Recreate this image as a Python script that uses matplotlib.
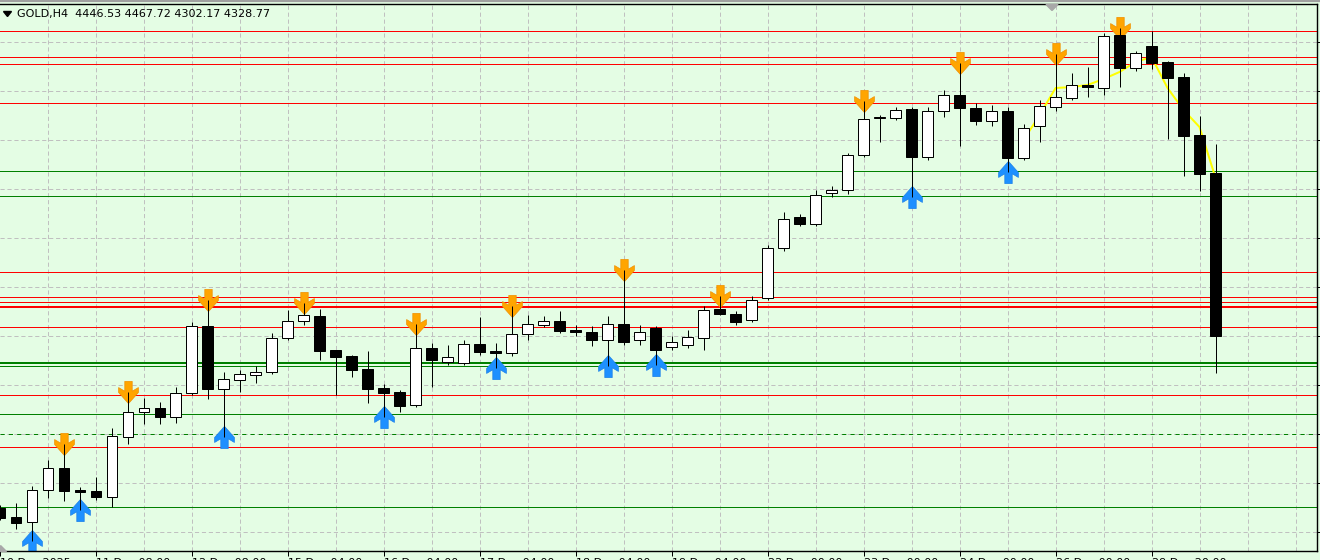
import matplotlib.pyplot as plt
from matplotlib.path import Path
from matplotlib.patches import Polygon
from matplotlib.lines import Line2D

# GOLD H4 candles, prices
opens = [4204.6, 4198.1, 4194.5, 4217.6, 4233.5, 4217.6, 4216.9, 4212.5, 4255.9, 4273.9,
         4276.8, 4270.3, 4287.7, 4336.1, 4290.5, 4297.0, 4300.7, 4302.8, 4327.4, 4339.7,
         4343.3, 4318.7, 4314.4, 4305.0, 4291.3, 4288.4, 4279.0, 4320.2, 4310.1, 4309.3,
         4323.1, 4318.0, 4316.6, 4330.3, 4336.8, 4339.7, 4333.2, 4331.7, 4326.0, 4337.5,
         4326.0, 4334.6, 4320.9, 4322.3, 4327.4, 4348.4, 4344.7, 4340.4, 4356.3, 4392.4,
         4414.8, 4409.8, 4432.2, 4434.3, 4459.6, 4486.3, 4486.3, 4492.8, 4458.2, 4491.4,
         4503.0, 4493.6, 4484.2, 4491.4, 4457.4, 4480.6, 4494.3, 4500.8, 4510.2, 4508.0,
         4546.3, 4522.5, 4538.4, 4526.8, 4516.0, 4474.1, 4446.53]
highs = [4206.7, 4208.2, 4220.5, 4239.3, 4250.8, 4219.7, 4227.0, 4262.4, 4288.4, 4284.0,
         4281.2, 4292.0, 4339.0, 4354.9, 4302.8, 4304.3, 4307.2, 4331.0, 4347.6, 4352.7,
         4348.4, 4318.7, 4315.1, 4318.0, 4294.2, 4289.8, 4337.5, 4323.8, 4322.3, 4326.0,
         4342.6, 4323.8, 4350.5, 4344.0, 4343.3, 4346.9, 4336.8, 4336.1, 4343.3, 4376.5,
         4336.8, 4336.1, 4328.8, 4333.2, 4350.5, 4357.7, 4346.9, 4357.7, 4394.6, 4418.4,
         4417.0, 4434.3, 4437.2, 4461.1, 4498.6, 4488.5, 4494.3, 4494.3, 4494.3, 4506.6,
         4526.1, 4497.2, 4495.7, 4494.3, 4482.0, 4499.4, 4532.6, 4518.9, 4523.2, 4547.8,
         4551.4, 4534.8, 4549.2, 4527.5, 4518.9, 4487.8, 4467.72]
lows = [4195.9, 4189.4, 4180.7, 4211.8, 4209.6, 4203.1, 4210.4, 4205.3, 4250.8, 4265.3,
        4265.3, 4266.0, 4286.2, 4283.3, 4255.9, 4288.4, 4294.9, 4301.4, 4326.0, 4336.8,
        4311.5, 4286.2, 4299.2, 4280.4, 4270.3, 4273.9, 4277.5, 4292.0, 4307.9, 4307.9,
        4315.1, 4305.7, 4314.4, 4326.0, 4335.3, 4331.0, 4328.8, 4321.6, 4307.2, 4322.3,
        4322.3, 4307.9, 4318.7, 4320.2, 4318.7, 4344.0, 4336.8, 4339.0, 4354.9, 4390.3,
        4408.3, 4408.3, 4429.3, 4431.4, 4458.2, 4469.0, 4484.9, 4429.3, 4456.0, 4487.1,
        4466.1, 4481.3, 4480.6, 4447.3, 4456.0, 4469.0, 4491.4, 4499.4, 4501.5, 4503.0,
        4508.7, 4520.3, 4521.7, 4471.2, 4444.4, 4433.6, 4302.17]
closes = [4197.3, 4193.7, 4217.6, 4233.5, 4216.9, 4216.1, 4212.5, 4256.6, 4273.9, 4276.8,
          4270.3, 4287.7, 4336.1, 4290.5, 4297.8, 4301.4, 4302.8, 4327.4, 4339.7, 4344.0,
          4318.0, 4313.7, 4304.3, 4290.5, 4287.7, 4278.3, 4320.2, 4311.5, 4313.7, 4323.1,
          4317.3, 4316.6, 4330.3, 4337.5, 4339.7, 4332.5, 4331.7, 4326.0, 4337.5, 4324.5,
          4331.7, 4318.7, 4324.5, 4328.1, 4347.6, 4344.7, 4339.0, 4354.9, 4392.4, 4413.4,
          4409.8, 4430.7, 4434.3, 4459.6, 4485.6, 4487.1, 4492.1, 4458.2, 4491.4, 4503.0,
          4493.6, 4484.2, 4491.4, 4457.4, 4479.1, 4495.0, 4501.5, 4510.2, 4508.7, 4545.6,
          4522.5, 4533.3, 4526.1, 4515.2, 4473.3, 4445.9, 4328.77]

# fractal arrows (bar numbers)
upper_fractals = [4, 8, 13, 19, 26, 32, 39, 45, 54, 60, 66, 70]
lower_fractals = [2, 5, 14, 24, 31, 38, 41, 57, 63]

# yellow indicator line
yellow_bars = [64, 65, 66, 67, 68, 69, 70, 71, 72, 73, 74, 75, 76]
yellow_vals = [4470.4, 4488.5, 4508.0, 4508.7, 4510.2, 4514.5, 4519.6, 4526.8, 4530.4,
               4508.0, 4492.1, 4479.8, 4443.0]

# horizontal levels
red_levels = [4549.2, 4530.4, 4525.4, 4497.2, 4375.1, 4357.0, 4353.4, 4335.3, 4286.2, 4248.6]
red_thick = [4349.8]
green_levels = [4448.1, 4430.0, 4307.2, 4272.5, 4205.3]
green_thick = [4309.3]
green_dashed = [4258.0]

# price grid and time labels
grid_prices = [4541.0, 4505.6, 4470.2, 4434.8, 4399.4, 4364.0, 4328.6, 4293.2, 4257.8, 4222.4, 4187.0]
tick_bars = [0, 6, 12, 18, 24, 30, 36, 42, 48, 54, 60, 66, 72]
tick_labels = ['10 Dec 2025', '11 Dec 08:00', '12 Dec 08:00', '15 Dec 04:00', '16 Dec 04:00',
               '17 Dec 04:00', '18 Dec 04:00', '19 Dec 04:00', '22 Dec 00:00', '23 Dec 00:00',
               '24 Dec 00:00', '26 Dec 00:00', '29 Dec 20:00']

bg = '#e4fde4'
px = 0.72  # one pixel in points

plt.rcParams['lines.scale_dashes'] = False
fig = plt.figure(figsize=(13.2, 5.6), dpi=100, facecolor=bg)
ax = fig.add_axes([0, 9 / 560, 1317 / 1320, 547 / 560])
ax.set_facecolor(bg)
ax.set_xlim(0.5 / 16, 1317.5 / 16)
ax.set_ylim(4173.5, 4568.7)

# grid
for g in range(3, 83, 3):
    ax.axvline(g, color='#c0c0c0', lw=px, ls=(0, (3, 2)), zorder=1)
for p in grid_prices:
    ax.axhline(p, color='#c0c0c0', lw=px, ls=(0, (3, 2)), zorder=1)

# levels
for p in red_levels:
    ax.axhline(p, color='red', lw=px, zorder=2)
for p in red_thick:
    ax.axhline(p, color='red', lw=2 * px, zorder=2)
for p in green_levels:
    ax.axhline(p, color='green', lw=px, zorder=2)
for p in green_thick:
    ax.axhline(p, color='green', lw=2 * px, zorder=2)
for p in green_dashed:
    ax.axhline(p, color='green', lw=px, ls=(0, (3, 3)), zorder=2)

# arrows
down_arrow = Path([(-3, 9), (3, 9), (3, 1), (8, 4), (8, 0), (0, -9), (-8, 0), (-8, 4), (-3, 1), (-3, 9)],
                  closed=True)
up_arrow = Path([(x, -y) for x, y in down_arrow.vertices], closed=True)
ax.plot(upper_fractals, [highs[i] for i in upper_fractals], ls='none', marker=down_arrow,
        ms=16, mfc='#ffa500', mec='#f09000', mew=0.5, zorder=2.4)
ax.plot(lower_fractals, [lows[i] for i in lower_fractals], ls='none', marker=up_arrow,
        ms=16, mfc='#1e90ff', mec='#1a80e8', mew=0.5, zorder=2.4)

# yellow line
ax.plot(yellow_bars, yellow_vals, color='yellow', lw=2 * px, zorder=2.5)

# candles
bars = list(range(len(opens)))
ax.vlines(bars, lows, highs, color='black', lw=px, zorder=3)
bottoms = [min(o, c) for o, c in zip(opens, closes)]
heights = [abs(c - o) for o, c in zip(opens, closes)]
faces = ['white' if c >= o else 'black' for o, c in zip(opens, closes)]
ax.bar(bars, heights, bottom=bottoms, width=0.68, color=faces, edgecolor='black', lw=px, zorder=4)

# axes
ax.spines['left'].set_visible(False)
for s in ['top', 'right', 'bottom']:
    ax.spines[s].set_linewidth(px * 1.4)
ax.yaxis.tick_right()
ax.set_yticks(grid_prices)
ax.set_yticklabels([])
ax.tick_params(axis='y', length=3 * px, width=px, direction='out')
ax.set_xticks(tick_bars)
ax.set_xticklabels(tick_labels, ha='left', fontsize=8)
ax.tick_params(axis='x', length=5 * px, width=px, direction='out', pad=1.5)

# header
fig.text(17 / 1320, 1 - 14.5 / 560,
         f'GOLD,H4  {opens[-1]:.2f} {highs[-1]:.2f} {lows[-1]:.2f} {closes[-1]:.2f}',
         fontsize=8, family='DejaVu Sans', va='center', ha='left')


def fig_poly(pts, color):
    fig.add_artist(Polygon([(x / 1320, 1 - y / 560) for x, y in pts], closed=True,
                           color=color, transform=fig.transFigure, zorder=10))


fig_poly([(3.5, 11.5), (11.5, 11.5), (7.5, 16.5)], 'black')
fig_poly([(1046, 4.5), (1058, 4.5), (1052, 10.5)], '#a8a8a8')
fig_poly([(0, 545), (0, 551), (6, 551)], '#a8a8a8')
fig.add_artist(Line2D([0, 1], [1 - 0.8 / 560] * 2, color='#a0a0a0', lw=1.6, transform=fig.transFigure))

fig.savefig('out.png', dpi=100, facecolor=bg)
